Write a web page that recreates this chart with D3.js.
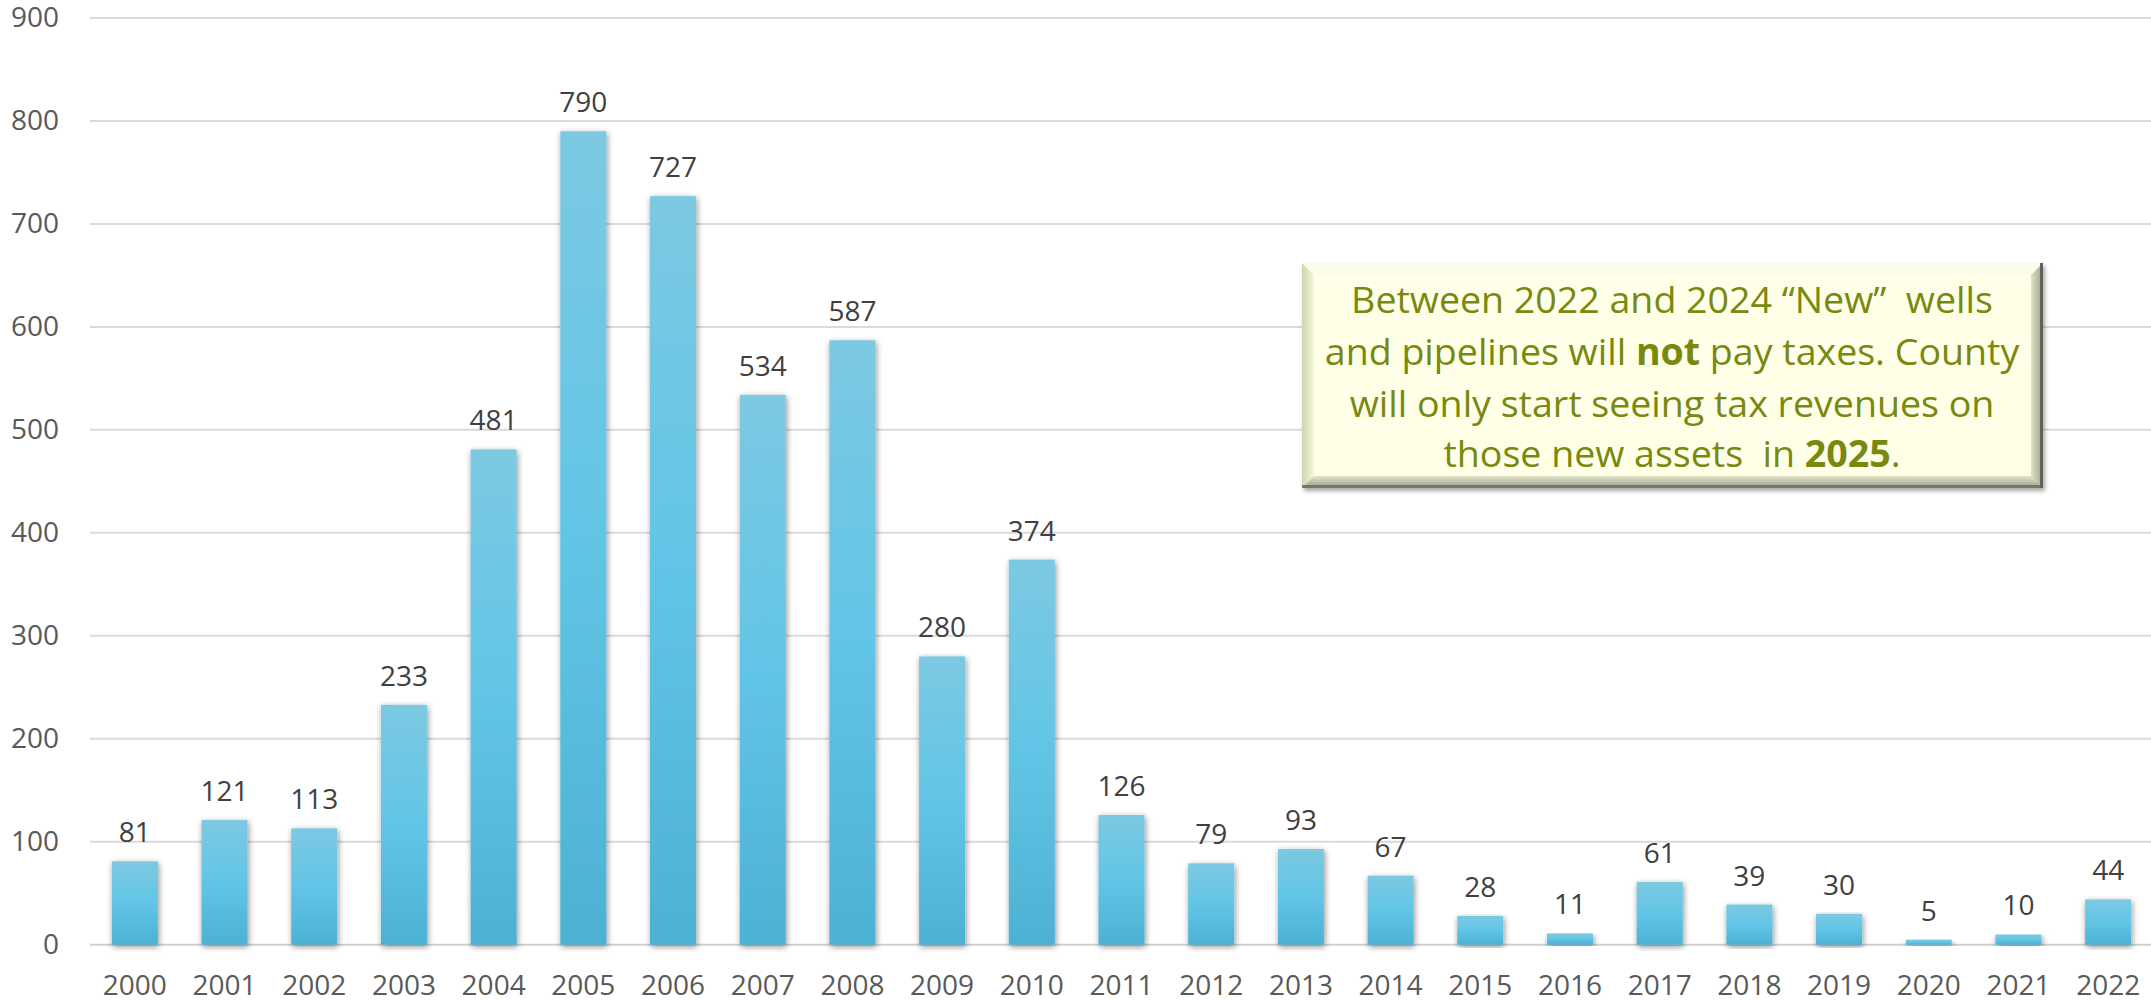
<!DOCTYPE html>
<html>
<head>
<meta charset="utf-8">
<script src="https://cdn.jsdelivr.net/npm/d3@7"></script>
<style>
  html, body { margin: 0; padding: 0; background: #ffffff; }
  svg { display: block; }
  text { font-family: "Open Sans", "Noto Sans", sans-serif; }
</style>
</head>
<body>
<script>
// Yearly counts
const years = ["2000","2001","2002","2003","2004","2005","2006","2007","2008","2009","2010","2011",
               "2012","2013","2014","2015","2016","2017","2018","2019","2020","2021","2022"];
const counts = [81,121,113,233,481,790,727,534,587,280,374,126,79,93,67,28,11,61,39,30,5,10,44];
const yTicks = [0,100,200,300,400,500,600,700,800,900];

// Callout text, one array of [text, bold] runs per line
const noteLines = [
  [["Between 2022 and 2024 \u201cNew\u201d  wells", false]],
  [["and pipelines will ", false], ["not", true], [" pay taxes. County", false]],
  [["will only start seeing tax revenues on", false]],
  [["those new assets  in ", false], ["2025", true], [".", false]]
];

const W = 2151, H = 1002;
const svg = d3.select("body").append("svg").attr("width", W).attr("height", H);

const defs = svg.append("defs");
const grad = defs.append("linearGradient").attr("id", "barFill")
  .attr("x1", 0).attr("y1", 0).attr("x2", 0).attr("y2", 1);
grad.append("stop").attr("offset", "0%").attr("stop-color", "#7cc9e2");
grad.append("stop").attr("offset", "50%").attr("stop-color", "#62c5e6");
grad.append("stop").attr("offset", "100%").attr("stop-color", "#4db1d3");

const shadow = defs.append("filter").attr("id", "barShadow")
  .attr("x", "-30%").attr("y", "-10%").attr("width", "160%").attr("height", "120%");
shadow.append("feGaussianBlur").attr("in", "SourceAlpha").attr("stdDeviation", 3).attr("result", "b");
shadow.append("feOffset").attr("in", "b").attr("dx", 1).attr("dy", 2).attr("result", "o");
shadow.append("feComponentTransfer").attr("in", "o").attr("result", "s")
  .append("feFuncA").attr("type", "linear").attr("slope", 0.45);
const sm = shadow.append("feMerge");
sm.append("feMergeNode").attr("in", "s");
sm.append("feMergeNode").attr("in", "SourceGraphic");

const boxShadow = defs.append("filter").attr("id", "boxShadow")
  .attr("x", "-5%").attr("y", "-5%").attr("width", "110%").attr("height", "115%");
boxShadow.append("feGaussianBlur").attr("in", "SourceAlpha").attr("stdDeviation", 2).attr("result", "b");
boxShadow.append("feOffset").attr("in", "b").attr("dx", 2).attr("dy", 3).attr("result", "o");
boxShadow.append("feComponentTransfer").attr("in", "o").attr("result", "s")
  .append("feFuncA").attr("type", "linear").attr("slope", 0.35);
const bm = boxShadow.append("feMerge");
bm.append("feMergeNode").attr("in", "s");
bm.append("feMergeNode").attr("in", "SourceGraphic");

// Bevel side gradients for the callout
const gl = defs.append("linearGradient").attr("id", "bevLeft").attr("x1", 0).attr("x2", 1).attr("y1", 0).attr("y2", 0);
gl.append("stop").attr("offset", "0%").attr("stop-color", "#cfd4b0");
gl.append("stop").attr("offset", "100%").attr("stop-color", "#f4f7dc");
const gr = defs.append("linearGradient").attr("id", "bevRight").attr("x1", 0).attr("x2", 1).attr("y1", 0).attr("y2", 0);
gr.append("stop").attr("offset", "0%").attr("stop-color", "#dfe2c6");
gr.append("stop").attr("offset", "100%").attr("stop-color", "#9ea08c");
const gb = defs.append("linearGradient").attr("id", "bevBottom").attr("x1", 0).attr("x2", 0).attr("y1", 0).attr("y2", 1);
gb.append("stop").attr("offset", "0%").attr("stop-color", "#e3e6c8");
gb.append("stop").attr("offset", "100%").attr("stop-color", "#9a9c88");

const plotLeft = 90, plotRight = 2153;
const y = d3.scaleLinear().domain([0, 900]).range([944.7, 18]);
const x = d3.scaleBand().domain(years).range([plotLeft, plotRight])
  .paddingInner(0.487).paddingOuter(0.2435);

// Gridlines
svg.append("g").selectAll("line").data(yTicks).join("line")
  .attr("x1", plotLeft).attr("x2", W)
  .attr("y1", d => y(d)).attr("y2", d => y(d))
  .attr("stroke", d => d === 0 ? "#d0d0d0" : "#dadada")
  .attr("stroke-width", 2);

// Y axis labels
const yAxis = d3.axisLeft(y).tickValues(yTicks).tickSize(0).tickPadding(0);
svg.append("g").attr("transform", "translate(59,0)").call(yAxis)
  .call(g => g.select(".domain").remove())
  .call(g => g.selectAll("text")
    .attr("fill", "#595959").attr("font-size", 28)
    .attr("font-family", "'Open Sans', sans-serif"));

// X axis labels
const xAxis = d3.axisBottom(x).tickSize(0).tickPadding(0);
svg.append("g").attr("transform", "translate(0,975)").call(xAxis)
  .call(g => g.select(".domain").remove())
  .call(g => g.selectAll("text")
    .attr("fill", "#595959").attr("font-size", 28)
    .attr("font-family", "'Open Sans', sans-serif"));

// Bars
svg.append("g").selectAll("rect").data(counts).join("rect")
  .attr("x", (d, i) => x(years[i]))
  .attr("width", x.bandwidth())
  .attr("y", d => y(d))
  .attr("height", d => y(0) - y(d))
  .attr("fill", "url(#barFill)")
  .attr("filter", "url(#barShadow)");

// Value labels
svg.append("g").selectAll("text").data(counts).join("text")
  .attr("x", (d, i) => x(years[i]) + x.bandwidth() / 2)
  .attr("y", d => y(d) - 19)
  .attr("text-anchor", "middle")
  .attr("font-size", 28)
  .attr("fill", "#404040")
  .text(d => d);

// Callout box with bevelled edge
const bx = 1302, by = 263, bw = 741, bh = 225, bev = 12;
const box = svg.append("g").attr("filter", "url(#boxShadow)");
box.append("rect").attr("x", bx).attr("y", by).attr("width", bw).attr("height", bh).attr("fill", "#fdfde4");
const P = (pts) => pts.map(p => p.join(",")).join(" ");
box.append("polygon").attr("points", P([[bx,by],[bx+bw,by],[bx+bw-bev,by+bev],[bx+bev,by+bev]])).attr("fill", "#fbfce9");
box.append("polygon").attr("points", P([[bx,by],[bx+bev,by+bev],[bx+bev,by+bh-bev],[bx,by+bh]])).attr("fill", "url(#bevLeft)");
box.append("polygon").attr("points", P([[bx+bw,by],[bx+bw,by+bh],[bx+bw-bev,by+bh-bev],[bx+bw-bev,by+bev]])).attr("fill", "url(#bevRight)");
box.append("polygon").attr("points", P([[bx,by+bh],[bx+bw,by+bh],[bx+bw-bev,by+bh-bev],[bx+bev,by+bh-bev]])).attr("fill", "url(#bevBottom)");
box.append("rect").attr("x", bx).attr("y", by + bh - 3).attr("width", bw).attr("height", 3).attr("fill", "#74776a");
box.append("rect").attr("x", bx + bw - 3).attr("y", by).attr("width", 3).attr("height", bh).attr("fill", "#5f6255");
box.append("rect").attr("x", bx + bev).attr("y", by + bev).attr("width", bw - 2 * bev).attr("height", bh - 2 * bev).attr("fill", "#ffffe8");

const noteG = svg.append("g");
const baselines = [313, 365, 417, 467];
const lineTexts = noteLines.map((runs, i) => {
  const t = noteG.append("text")
    .attr("x", 0).attr("y", baselines[i])
    .attr("text-anchor", "middle")
    .attr("font-size", 37)
    .attr("fill", "#77890f")
    .style("white-space", "pre");
  runs.forEach(([s, b]) => t.append("tspan").attr("font-weight", b ? 700 : 400).text(s));
  return t;
});
// Fit the note's first line to its set width
const w0 = lineTexts[0].node().getComputedTextLength();
const sx = 642 / w0;
noteG.attr("transform", `translate(1672,0) scale(${sx},1)`);
</script>
</body>
</html>
